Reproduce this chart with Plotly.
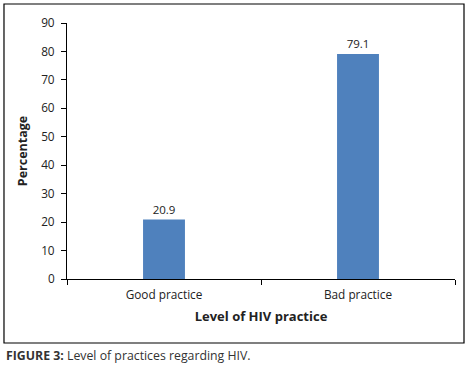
import plotly.graph_objects as go

categories = ["Good practice", "Bad practice"]
values = [20.9, 79.1]
y_ticks = [0, 10, 20, 30, 40, 50, 60, 70, 80, 90]

FONT = "Open Sans"
fig = go.Figure(go.Bar(
    x=categories, y=values,
    marker=dict(color="#4F81BD", line=dict(width=0)),
    text=[f"{v:.1f}" for v in values], textposition="outside",
    textfont=dict(size=11.5, color="#222", family=FONT),
    cliponaxis=False, hoverinfo="skip",
))

fig.update_layout(
    width=474, height=368,
    margin=dict(l=67, r=19, t=23, b=89),
    paper_bgcolor="white", plot_bgcolor="white",
    bargap=0.784,
    showlegend=False,
    font=dict(family=FONT, size=11, color="#222"),
    xaxis=dict(
        automargin=False,
        showline=True, linecolor="black", linewidth=1,
        ticks="outside", tickson="boundaries", ticklen=5, tickcolor="black",
        ticklabelstandoff=5,
        tickfont=dict(size=11.8, family=FONT, color="#222"),
        title=dict(text="<b>Level of HIV practice</b>", font=dict(size=13, family=FONT, color="#222"), standoff=10),
        showgrid=False,
    ),
    yaxis=dict(
        automargin=False,
        range=[0, 90], tickvals=y_ticks,
        showline=True, linecolor="black", linewidth=1,
        ticks="outside", ticklen=5, tickcolor="black",
        ticklabelstandoff=4,
        tickfont=dict(size=11.8, family=FONT, color="#222"),
        title=dict(text="<b>Percentage</b>", font=dict(size=12.5, family=FONT, color="#222"), standoff=10),
        showgrid=False, zeroline=False,
    ),
    shapes=[dict(type="rect", xref="paper", yref="paper",
                 x0=-0.1624, x1=1.0232, y0=-0.25, y1=1.0742,
                 line=dict(color="black", width=1.2))],
    annotations=[dict(
        xref="paper", yref="paper", x=-0.1624, y=-0.297,
        xanchor="left", yanchor="middle", showarrow=False,
        text="<b>FIGURE 3:</b> Level of practices regarding HIV.",
        font=dict(size=12.3, family=FONT, color="#333"),
    )],
)

fig.write_html("out.html", config={"displayModeBar": False},
               post_script="document.body.style.margin='0';")
